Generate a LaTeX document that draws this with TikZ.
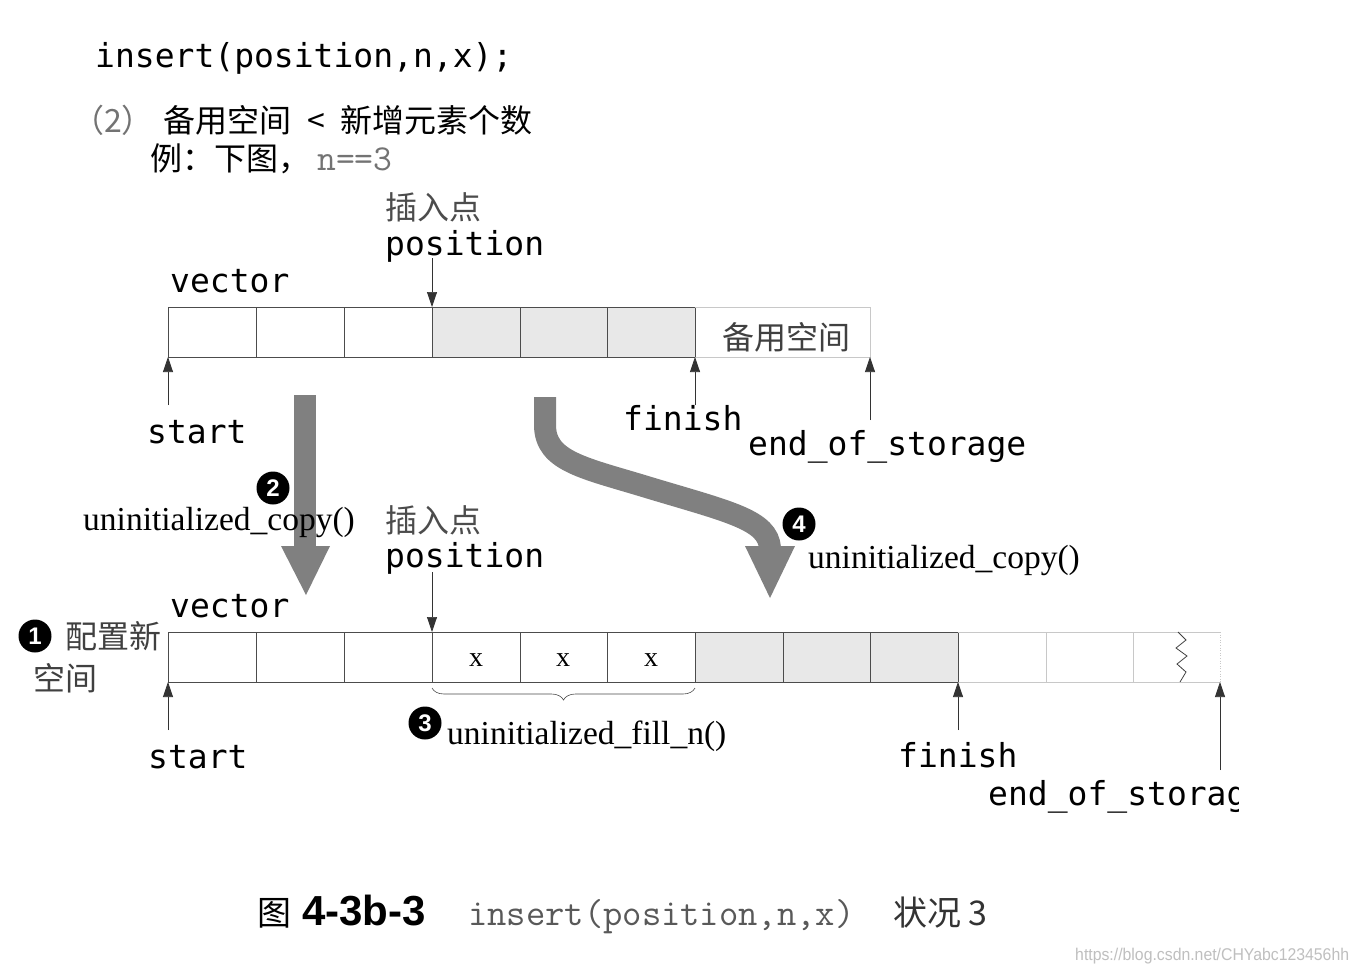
\documentclass[tikz,border=0pt]{standalone}
\usepackage{fontspec}
\newfontfamily\cjk{Noto Sans CJK SC}
\newfontfamily\mono{DejaVu Sans Mono}
\newfontfamily\tms{Liberation Serif}
\newfontfamily\hv{Liberation Sans}
\usetikzlibrary{arrows.meta,decorations.pathreplacing}
\definecolor{bigarrow}{RGB}{128,128,128}
\definecolor{shade}{RGB}{232,232,232}
\definecolor{faint}{RGB}{200,200,200}
\tikzset{
  lbl/.style={inner sep=0pt, anchor=base west, font=\fontsize{33}{33}\selectfont\mono},
  cjklbl/.style={inner sep=0pt, anchor=base west, font=\fontsize{32}{32}\selectfont\cjk},
  fn/.style={inner sep=0pt, anchor=base west, font=\fontsize{33.5}{33.5}\selectfont\tms},
  cell/.style={draw=black!70, line width=0.8pt},
  pcell/.style={draw=black!70, line width=0.8pt, fill=shade},
  spare/.style={draw=faint, line width=0.6pt},
  ptr/.style={draw=black!80, line width=0.7pt, -{Triangle[length=15pt,width=10pt]}},
  num/.style={circle, fill=black, text=white, inner sep=0pt, minimum size=33pt,
    font=\fontsize{24}{24}\selectfont\hv\bfseries},
}
\begin{document}
\begin{tikzpicture}[x=1pt,y=-1pt]
\useasboundingbox[fill=white] (0,0) rectangle (1360,972);

% header text
\node[lbl] (hdr) at (95,67) {insert(position,n,x);};
\node[cjklbl, text=black!55] (two) at (72,132) {（2）};
\node[cjklbl] (cond) at (163,132) {备用空间\hspace{16pt}<\hspace{16pt}新增元素个数};
\node[cjklbl] (eg) at (150,170) {例：下图，};
\node[inner sep=0pt, anchor=base west, font=\fontsize{36.5}{36.5}\selectfont\ttfamily, text=black!55] (eg2) at (317,170) {n==3};

% ---------- top vector ----------
\foreach \a/\b in {168/256,256/344,344/432}
  \draw[cell] (\a,307) rectangle (\b,357);
\foreach \a/\b in {432/520,520/607,607/695}
  \draw[pcell] (\a,307) rectangle (\b,357);
\draw[spare] (695,307) -- (870,307) -- (870,357) -- (695,357);
\node[cjklbl, text=black!75] (spT) at (722,349) {备用空间};

\coordinate (tS) at (168,357);
\coordinate (tF) at (695,357);
\coordinate (tE) at (870,357);
\coordinate (tP) at (432,307);

\node[lbl] (vecT) at (170,292) {vector};
\node[cjklbl, text=black!70] (insT) at (385,219) {插入点};
\node[lbl] (posT) at (385,255) {position};
\coordinate (posTa) at (432,258);
\draw[ptr] (posTa) -- (tP);

\coordinate (sTa) at (168,405);
\coordinate (fTa) at (695,405);
\coordinate (eTa) at (870,420);
\draw[ptr] (sTa) -- (tS);
\draw[ptr] (fTa) -- (tF);
\draw[ptr] (eTa) -- (tE);
\node[lbl] (startT) at (147,443) {start};
\node[lbl] (finT) at (623,430) {finish};
\node[lbl] (eosT) at (748,455) {end\_of\_storage};

% ---------- big arrows ----------
\draw[bigarrow, line width=22pt] (305,395) -- (305,548);
\fill[bigarrow] (281,546) -- (330,546) -- (306,595) -- cycle;

\draw[bigarrow, line width=22pt] (545,397) -- (545,425)
  .. controls (545,462) and (585,468) .. (650,488)
  .. controls (730,512) and (768,520) .. (770,548);
\fill[bigarrow] (745,546) -- (795,546) -- (770,598) -- cycle;

\node[num] (n2) at (273,488) {2};
\node[fn] (uc1) at (83,530) {uninitialized\_copy()};
\node[num] (n4) at (799,524) {4};
\node[fn] (uc2) at (808,568) {uninitialized\_copy()};

% ---------- bottom vector ----------
\foreach \a/\b in {168/256,256/344,344/432,432/520,520/607,607/695}
  \draw[cell] (\a,632) rectangle (\b,682);
\foreach \a/\b in {695/783,783/870,870/958}
  \draw[pcell] (\a,632) rectangle (\b,682);
\draw[spare] (958,632) -- (1220,632);
\draw[spare] (958,682) -- (1220,682);
\draw[spare] (1046,632) -- (1046,682);
\draw[spare] (1133,632) -- (1133,682);
\draw[spare, dotted] (1220,632) -- (1220,682);
\draw[black!75, line width=0.8pt] (1178,632) -- (1186,640) -- (1176,648) -- (1187,656)
  -- (1177,664) -- (1186,672) -- (1180,682);
\foreach \c in {476,563,651}
  \node[inner sep=0pt, font=\fontsize{28}{28}\selectfont\tms] at (\c,660) {x};

\coordinate (bS) at (168,682);
\coordinate (bF) at (958,682);
\coordinate (bE) at (1220,682);
\coordinate (bP) at (432,632);

\node[lbl] (vecB) at (170,617) {vector};
\node[cjklbl, text=black!70] (insB) at (385,532) {插入点};
\node[lbl] (posB) at (385,567) {position};
\coordinate (posBa) at (432,572);
\draw[ptr] (posBa) -- (bP);

\node[num] (n1) at (35,636) {1};
\node[cjklbl, text=black!75] (alloc1) at (65,648) {配置新};
\node[cjklbl, text=black!75] (alloc2) at (33,690) {空间};

\coordinate (bl) at (432,688);
\coordinate (br) at (695,688);
\draw[black!70, line width=0.6pt, decorate, decoration={brace, mirror, amplitude=12pt}] (bl) -- (br);
\node[num] (n3) at (425,723) {3};
\node[fn] (ufn) at (447,744) {uninitialized\_fill\_n()};

\coordinate (sBa) at (168,730);
\coordinate (fBa) at (958,730);
\coordinate (eBa) at (1220,770);
\draw[ptr] (sBa) -- (bS);
\draw[ptr] (fBa) -- (bF);
\draw[ptr] (eBa) -- (bE);
\node[lbl] (startB) at (148,768) {start};
\node[lbl] (finB) at (898,767) {finish};
\begin{scope}
\clip (980,760) rectangle (1238,830);
\node[lbl] (eosB) at (988,805) {end\_of\_storage};
\end{scope}

% ---------- caption ----------
\node[inner sep=0pt, anchor=base west, font=\fontsize{34}{34}\selectfont\cjk] (capA) at (257,925) {图};
\node[inner sep=0pt, anchor=base west, font=\fontsize{42}{42}\selectfont\hv\bfseries] (capB) at (302,925) {4-3b-3};
\node[inner sep=0pt, anchor=base west, font=\fontsize{37.5}{37.5}\selectfont\ttfamily, text=black!65] (capC) at (468,925) {insert(position,n,x)};
\node[inner sep=0pt, anchor=base west, font=\fontsize{34}{34}\selectfont\cjk, text=black!80] (capD) at (893,925) {状况 3};
\node[inner sep=0pt, anchor=base west, font=\fontsize{17}{17}\selectfont\hv, text=black!25] (wm) at (1075,960) {\addfontfeature{FakeStretch=0.93}https://blog.csdn.net/CHYabc123456hh};
\end{tikzpicture}
\end{document}
